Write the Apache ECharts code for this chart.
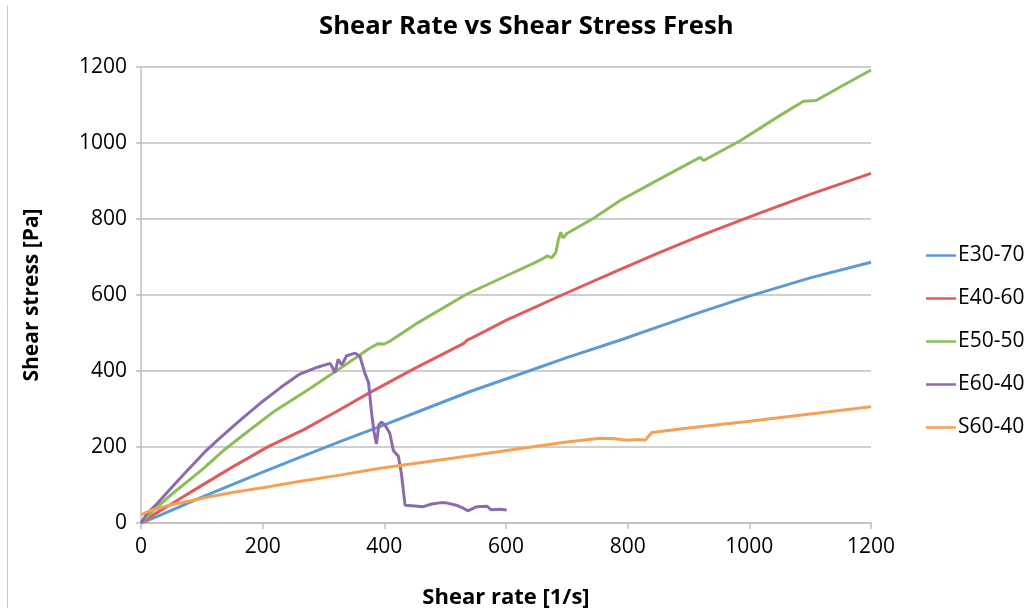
<!DOCTYPE html>
<html>
<head>
<meta charset="utf-8">
<script src="https://cdn.jsdelivr.net/npm/echarts@6/dist/echarts.min.js"></script>
<style>
  html, body { margin: 0; padding: 0; background: #fff; }
  #chart { width: 1035px; height: 608px; }
</style>
</head>
<body>
<div id="chart"></div>
<script>
// Flow curves: [shear rate (1/s), shear stress (Pa)]
const seriesNames = ['E30-70', 'E40-60', 'E50-50', 'E60-40', 'S60-40'];

const e30_70 = [
  [0, 0], [25, 16], [50, 33], [80, 54], [100, 68], [150, 101], [200, 134], [260, 172],
  [327, 214], [400, 258], [470, 302], [541, 346], [634, 398], [700, 435], [787, 481],
  [850, 516], [920, 555], [1000, 597], [1100, 645], [1200, 686]
];

const e40_60 = [
  [0, 0], [25, 26], [50, 50], [100, 99], [150, 147], [209, 201], [267, 245], [320, 292],
  [376, 343], [450, 407], [530, 472], [536, 481], [545, 488], [600, 533], [692, 600],
  [787, 667], [850, 710], [920, 756], [996, 803], [1100, 865], [1200, 920]
];

const e50_50 = [
  [0, 0], [25, 40], [50, 75], [100, 140], [135, 190], [175, 240], [220, 295], [274, 350],
  [330, 410], [376, 460], [390, 472], [400, 471], [411, 480], [450, 522], [535, 602],
  [600, 650], [645, 683], [660, 695], [668, 703], [675, 698], [682, 712], [686, 745],
  [690, 765], [694, 750], [700, 762], [744, 802], [787, 848], [850, 903], [919, 962],
  [925, 954], [985, 1006], [1050, 1072], [1089, 1110], [1110, 1112], [1150, 1148],
  [1200, 1192]
];

const e60_40 = [
  [0, 0], [10, 25], [27, 52], [53, 98], [75, 136], [108, 192], [130, 224], [150, 252],
  [170, 280], [196, 315], [230, 357], [261, 392], [290, 410], [311, 420], [319, 396],
  [324, 431], [330, 416], [338, 440], [352, 447], [360, 438], [368, 394], [374, 370],
  [379, 290], [383, 240], [387, 208], [391, 258], [395, 266], [401, 258], [409, 236],
  [415, 190], [423, 176], [428, 131], [434, 47], [450, 45], [464, 43], [478, 50],
  [491, 53], [502, 53], [520, 46], [530, 39], [537, 32], [552, 43], [569, 44], [575, 35],
  [590, 36], [601, 34]
];

const s60_40 = [
  [0, 22], [20, 35], [50, 48], [80, 58], [115, 70], [150, 80], [200, 93], [260, 109],
  [327, 126], [393, 144], [500, 168], [607, 192], [700, 213], [755, 223], [780, 222],
  [798, 218], [820, 220], [829, 218], [835, 230], [840, 238], [900, 250], [1000, 268],
  [1100, 287], [1200, 306]
];

const seriesData = [e30_70, e40_60, e50_50, e60_40, s60_40];
const seriesColors = ['#5B9BD5', '#E05C5C', '#8CBD5A', '#8B6BAE', '#F4A155'];

const axisTicks = { min: 0, max: 1200, interval: 200 };

const chart = echarts.init(document.getElementById('chart'), null, { renderer: 'canvas' });

const fontFamily = '"Open Sans", "Noto Sans", sans-serif';
const plainNumber = v => String(v);

chart.setOption({
  animation: false,
  backgroundColor: '#ffffff',
  title: {
    text: 'Shear Rate vs Shear Stress Fresh',
    left: 314,
    top: 9,
    textStyle: { fontFamily, fontWeight: 'bold', fontSize: 25.7, color: '#000' }
  },
  grid: {
    left: 141, right: 164, top: 67, bottom: 85,
    containLabel: false,
    outerBoundsMode: 'none'
  },
  legend: {
    orient: 'vertical',
    left: 921,
    top: 240,
    itemWidth: 30,
    itemHeight: 14,
    itemGap: 22,
    icon: 'path://M0,6 L30,6 L30,8.5 L0,8.5 Z',
    data: seriesNames,
    textStyle: { fontFamily, fontSize: 21, color: '#000', padding: [0, 0, 0, -3] }
  },
  graphic: [{
    type: 'line',
    shape: { x1: 7.5, y1: 5, x2: 7.5, y2: 608 },
    style: { stroke: '#c8c8c8', lineWidth: 1 }
  }],
  xAxis: {
    type: 'value',
    min: axisTicks.min, max: axisTicks.max, interval: axisTicks.interval,
    name: 'Shear rate [1/s]',
    nameLocation: 'middle',
    nameGap: 64,
    nameTextStyle: { fontFamily, fontWeight: 'bold', fontSize: 22, color: '#000' },
    axisLine: { show: true, lineStyle: { color: '#bfbfbf', width: 1.5 } },
    axisTick: { show: true, length: 6, lineStyle: { color: '#bfbfbf', width: 1.5 } },
    axisLabel: { margin: 14, fontFamily, fontSize: 21, color: '#000', formatter: plainNumber },
    splitLine: { show: false }
  },
  yAxis: {
    type: 'value',
    min: axisTicks.min, max: axisTicks.max, interval: axisTicks.interval,
    name: 'Shear stress [Pa]',
    nameLocation: 'middle',
    nameGap: 98,
    nameTextStyle: { fontFamily, fontWeight: 'bold', fontSize: 21, color: '#000' },
    axisLine: { show: true, lineStyle: { color: '#bfbfbf', width: 1.5 } },
    axisTick: { show: true, length: 5, lineStyle: { color: '#bfbfbf', width: 1.5 } },
    axisLabel: { margin: 14, fontFamily, fontSize: 21, color: '#000', formatter: plainNumber },
    splitLine: { show: true, lineStyle: { color: '#bfbfbf', width: 1.5 } }
  },
  series: seriesNames.map((name, i) => ({
    name,
    type: 'line',
    data: seriesData[i],
    symbol: 'none',
    showSymbol: false,
    smooth: false,
    color: seriesColors[i],
    lineStyle: { width: 3, color: seriesColors[i] },
    z: 2 + i
  }))
});
</script>
</body>
</html>
